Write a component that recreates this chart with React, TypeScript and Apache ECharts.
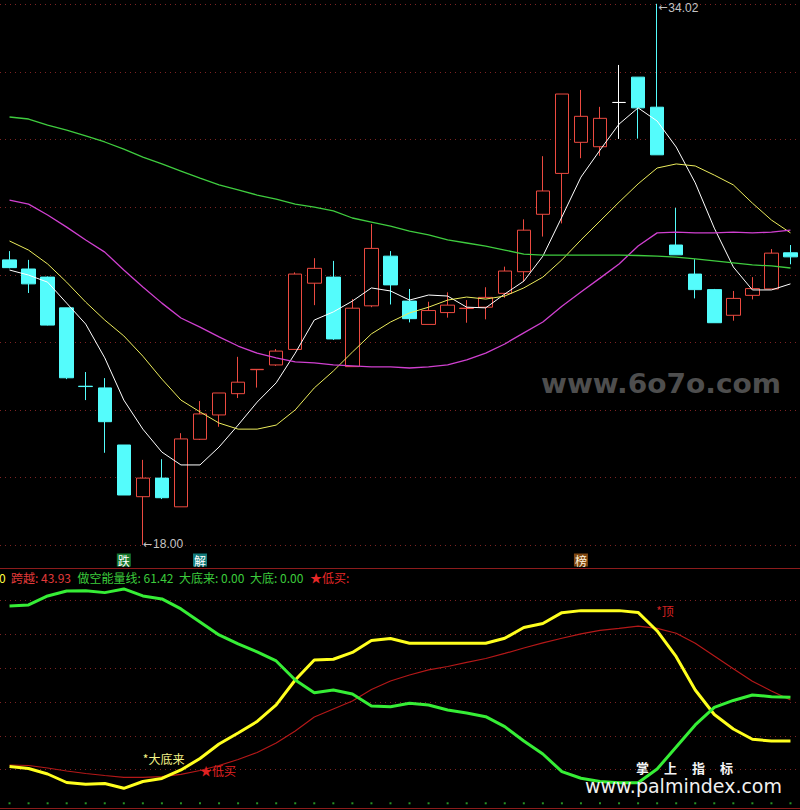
import React, { useEffect, useRef } from "react";
import * as echarts from "echarts";

// bar sequence (one entry per trading day on screen)
const bars = [
  "1", "2", "3", "4", "5", "6", "7", "8", "9", "10", "11", "12", "13", "14",
  "15", "16", "17", "18", "19", "20", "21", "22", "23", "24", "25", "26", "27", "28",
  "29", "30", "31", "32", "33", "34", "35", "36", "37", "38", "39", "40", "41", "42",
];

// OHLC prices
const open = [
  26.44, 26.17, 25.93, 25.02, 22.7, 22.65, 20.96, 19.43, 19.98, 19.13, 21.13, 21.85, 22.48, 23.19,
  23.33, 23.79, 25.75, 25.93, 23.28, 25.08, 26.55, 25.22, 24.53, 24.88, 25.0, 25.04, 25.45, 26.09,
  27.79, 29.0, 29.92, 29.79, 31.1, 31.85, 30.96, 26.88, 26.02, 25.56, 24.8, 25.39, 25.58, 26.65,
];
const close = [
  26.21, 25.73, 24.51, 22.95, 22.69, 21.65, 19.48, 19.98, 19.4, 21.14, 21.88, 22.5, 22.82, 23.2,
  23.74, 26.02, 26.19, 24.1, 25.01, 26.78, 25.7, 24.7, 24.94, 25.1, 25.01, 25.33, 26.11, 27.32,
  28.48, 31.35, 30.69, 30.63, 31.1, 30.94, 29.55, 26.59, 25.56, 24.58, 25.3, 25.59, 26.64, 26.53,
];
const low = [
  26.19, 25.46, 24.5, 22.91, 22.29, 20.73, 19.48, 18.0, 19.36, 19.13, 21.11, 21.5, 22.35, 22.66,
  23.3, 23.79, 25.1, 24.07, 23.28, 25.04, 25.12, 24.59, 24.53, 24.73, 24.58, 24.68, 25.32, 25.79,
  27.13, 27.52, 29.45, 29.52, 30.02, 30.03, 29.55, 26.59, 25.3, 24.58, 24.64, 25.27, 25.58, 26.31,
];
const high = [
  26.7, 26.44, 25.95, 25.02, 23.12, 22.94, 20.96, 20.52, 20.54, 21.31, 22.26, 22.5, 23.57, 23.2,
  23.8, 26.07, 26.49, 26.41, 25.28, 27.5, 26.7, 25.58, 25.2, 25.48, 25.25, 25.63, 26.24, 27.64,
  29.51, 31.35, 31.47, 30.97, 32.21, 31.85, 34.02, 27.98, 26.46, 25.58, 25.52, 25.93, 26.76, 26.88,
];

// moving averages
const ma5 = [
  26.14, 25.99, 25.78, 25.16, 24.54, 23.54, 22.29, 21.43, 20.75, 20.37, 20.37, 20.9, 21.55, 22.23,
  22.8, 23.68, 24.66, 24.9, 25.22, 25.61, 25.52, 25.25, 25.4, 25.37, 25.04, 25.02, 25.43, 25.81,
  26.55, 27.71, 28.89, 29.69, 30.46, 30.94, 30.55, 29.78, 28.72, 27.38, 26.23, 25.55, 25.55, 25.73,
];
const ma10 = [
  27.0, 26.73, 26.32, 25.78, 25.19, 24.66, 24.19, 23.59, 22.91, 22.29, 21.94, 21.61, 21.43, 21.43,
  21.55, 22.0, 22.65, 23.15, 23.71, 24.25, 24.6, 24.87, 25.04, 25.25, 25.34, 25.28, 25.37, 25.61,
  25.93, 26.44, 27.03, 27.59, 28.15, 28.69, 29.16, 29.28, 29.22, 28.95, 28.66, 28.12, 27.62, 27.24,
];
const ma30 = [
  28.21, 28.09, 27.77, 27.41, 27.03, 26.67, 26.14, 25.64, 25.16, 24.72, 24.45, 24.16, 23.89, 23.68,
  23.54, 23.42, 23.39, 23.33, 23.3, 23.27, 23.27, 23.24, 23.27, 23.33, 23.48, 23.68, 23.95, 24.28,
  24.6, 25.07, 25.49, 25.9, 26.32, 26.85, 27.24, 27.26, 27.24, 27.24, 27.26, 27.24, 27.26, 27.32,
];
const ma60 = [
  30.67, 30.61, 30.43, 30.28, 30.11, 29.93, 29.72, 29.48, 29.28, 29.07, 28.86, 28.66, 28.51, 28.36,
  28.24, 28.09, 28.0, 27.89, 27.68, 27.56, 27.44, 27.29, 27.18, 27.03, 26.94, 26.85, 26.73, 26.61,
  26.58, 26.58, 26.58, 26.58, 26.58, 26.57, 26.55, 26.52, 26.47, 26.41, 26.35, 26.29, 26.26, 26.2,
];

// price axis
const priceMin = 18;
const priceTop = 34;
const priceStep = 2;

// signal marks under the price panel
const signalBars = [6, 10, 30];
const signalTexts = ["跌", "解", "榜"];

// indicator panel
const trendLine = [
  10.9, 10.31, 8.68, 6.16, 5.63, 5.87, 4.44, 6.46, 7.35, 9.87, 13.27, 17.57, 20.83, 24.24,
  29.13, 36.53, 42.46, 42.67, 44.68, 48.24, 48.83, 47.41, 47.41, 47.41, 47.41, 47.41, 48.89, 52.09,
  53.27, 56.47, 57.07, 57.07, 57.07, 56.53, 51.05, 43.44, 33.57, 26.31, 22.01, 18.96, 18.46, 18.46,
];
const kuayue = [
  11.35, 11.2, 10.46, 9.57, 8.83, 8.24, 7.7, 7.7, 7.88, 8.59, 9.72, 11.2, 12.98, 15.05,
  17.87, 21.42, 25.57, 27.94, 30.31, 33.72, 36.24, 38.01, 39.5, 40.53, 41.72, 42.9, 44.39, 46.01,
  47.5, 48.89, 50.16, 51.2, 51.79, 52.47, 51.79, 50.37, 47.41, 43.64, 39.88, 36.15, 33.27, 30.61,
];
const shortEnergy = [
  58.46, 58.76, 61.42, 62.9, 62.99, 62.4, 63.5, 61.42, 60.53, 57.57, 53.72, 49.87, 47.2, 44.83,
  42.16, 36.53, 32.77, 33.57, 32.39, 28.83, 28.62, 29.63, 29.13, 27.64, 26.76, 25.66, 22.7, 18.46,
  14.61, 9.36, 7.41, 6.46, 6.1, 6.1, 10.16, 16.68, 23.2, 28.39, 30.46, 32.09, 31.59, 31.41,
];
const bigBottom = [
  0, 0, 0, 0, 0, 0, 0, 0, 0, 0, 0, 0, 0, 0,
  0, 0, 0, 0, 0, 0, 0, 0, 0, 0, 0, 0, 0, 0,
  0, 0, 0, 0, 0, 0, 0, 0, 0, 0, 0, 0, 0, 0,
];
const bottomSignalBar = 7;
const lowBuyBar = 10;
const topSignalBar = 34;

// header readout
const headerLead = "0";
const headerItems = [
  { name: "跨越", value: 43.93 },
  { name: "做空能量线", value: 61.42 },
  { name: "大底来", value: 0.0 },
  { name: "大底", value: 0.0 },
];

const FONT = '"Noto Sans CJK SC", "Noto Sans", sans-serif';
const UP = "#ec4a40";
const DOWN = "#54fcfc";
const GRID_DOT = "#7e2323";

export default function App() {
  const ref = useRef<HTMLDivElement>(null);

  useEffect(() => {
    if (!ref.current) return;
    const chart = echarts.init(ref.current, null, { renderer: "svg" });

    const candles = bars.map((_, i) => {
      const v = [open[i], close[i], low[i], high[i]];
      if (open[i] === close[i]) {
        return {
          value: v,
          itemStyle: { color: "#ffffff", color0: "#ffffff", borderColor: "#ffffff", borderColor0: "#ffffff" },
        };
      }
      return { value: v };
    });

    let lowIdx = 0;
    let highIdx = 0;
    low.forEach((v, i) => { if (v < low[lowIdx]) lowIdx = i; });
    high.forEach((v, i) => { if (v > high[highIdx]) highIdx = i; });

    // the price axis reaches up to the session high so the high marker stays inside it
    const priceMax = Math.max(priceTop, high[highIdx]);
    const pxPerUnit = 540.5 / (priceTop - priceMin);
    const extra = (priceMax - priceTop) * pxPerUnit;

    const xLeft = -2.67;
    const xWidth = 812;

    const headerColors = ["#e23a3a", "#3ccc3c", "#3ccc3c", "#3ccc3c"];
    const headerX = [11, 77.5, 179, 250];

    const extremeRich = {
      a: { fontFamily: '"DejaVu Sans", sans-serif', fontSize: 11, color: "#c4c4c4", padding: [0, 1, 0, 0] },
      n: { fontFamily: '"Liberation Sans", sans-serif', fontSize: 12, color: "#c4c4c4" },
    };

    const graphic: any[] = [
      { type: "line", z: 50, shape: { x1: 0, y1: 568.5, x2: 800, y2: 568.5 }, style: { stroke: "#8c1c1c", lineWidth: 1.2 } },
      { type: "line", z: 50, shape: { x1: 0, y1: 808.5, x2: 800, y2: 808.5 }, style: { stroke: "#8c1c1c", lineWidth: 1.2 } },
      { type: "text", z: 50, x: -1, y: 577, style: { text: headerLead, fill: "#ffff40", font: `12px ${FONT}`, verticalAlign: "middle" } },
      ...headerItems.map((it, i) => ({
        type: "text", z: 50, x: headerX[i], y: 577,
        style: { text: `${it.name}: ${it.value.toFixed(2)}`, fill: headerColors[i], font: `12px ${FONT}`, verticalAlign: "middle" },
      })),
      { type: "text", z: 50, x: 310, y: 577, style: { text: "★低买:", fill: "#e82828", font: `12px ${FONT}`, verticalAlign: "middle" } },
      {
        type: "text", z: 1, x: 541, y: 384, scaleX: 1.08,
        style: { text: "www.6o7o.com", fill: "#4e4e4e", font: `bold 26px "DejaVu Sans", sans-serif`, verticalAlign: "middle" },
      },
      ...["掌", "上", "指", "标"].map((ch, i) => ({
        type: "text", z: 100, x: 636 + i * 28, y: 767,
        style: { text: ch, fill: "#f4f4f4", font: `bold 13px ${FONT}`, lineHeight: 13, verticalAlign: "middle" },
      })),
      {
        type: "text", z: 100, x: 585, y: 786,
        style: { text: "www.palmindex.com", fill: "#f0f0f0", font: `19px "DejaVu Sans", sans-serif`, lineHeight: 18, verticalAlign: "middle" },
      },
    ];

    const option: any = {
      animation: false,
      backgroundColor: "#000000",
      grid: [
        { left: xLeft, width: xWidth, top: 4.5 - extra, height: 540.5 + extra },
        { left: xLeft, width: xWidth, top: 569, height: 234.3 },
      ],
      xAxis: [
        {
          type: "category", gridIndex: 0, data: bars, boundaryGap: true,
          axisLine: { show: false }, axisTick: { show: false }, splitLine: { show: false },
          axisLabel: {
            show: true, interval: 0, margin: 9,
            formatter: (_v: string, idx: number) => {
              const k = signalBars.indexOf(idx);
              return k < 0 ? "" : `{s${k}|${signalTexts[k]}}`;
            },
            rich: {
              s0: { backgroundColor: "#17782e", color: "#ffffff", fontSize: 12, fontFamily: FONT, padding: [1, 1, 0, 1], lineHeight: 12 },
              s1: { backgroundColor: "#137a7a", color: "#ffffff", fontSize: 12, fontFamily: FONT, padding: [1, 1, 0, 1], lineHeight: 12 },
              s2: { backgroundColor: "#7f4712", color: "#fff4dc", fontSize: 12, fontFamily: FONT, padding: [1, 1, 0, 1], lineHeight: 12 },
            },
          },
        },
        { type: "category", gridIndex: 1, data: bars, boundaryGap: true, show: false },
      ],
      yAxis: [
        {
          type: "value", gridIndex: 0, min: priceMin, max: priceMax, interval: priceStep,
          axisLabel: { show: false }, axisLine: { show: false }, axisTick: { show: false },
          splitLine: {
            show: true, showMinLine: true, showMaxLine: priceMax === priceTop,
            lineStyle: { color: GRID_DOT, width: 1, type: [1, 4] },
          },
        },
        {
          type: "value", gridIndex: 1, min: 0, max: 69.4, interval: 10,
          axisLabel: { show: false }, axisLine: { show: false }, axisTick: { show: false },
          splitLine: { show: true, showMinLine: false, showMaxLine: false, lineStyle: { color: GRID_DOT, width: 1, type: [1, 4] } },
        },
      ],
      graphic,
      series: [
        {
          type: "candlestick", xAxisIndex: 0, yAxisIndex: 0, data: candles, barWidth: 14, clip: false,
          itemStyle: { color: "#000000", color0: DOWN, borderColor: UP, borderColor0: DOWN, borderWidth: 1 },
          markPoint: {
            symbol: "circle", symbolSize: 0, itemStyle: { color: "rgba(0,0,0,0)" },
            label: { show: true, rich: extremeRich },
            data: [
              { coord: [lowIdx, low[lowIdx]], value: low[lowIdx],
                label: { formatter: `{a|←}{n|${low[lowIdx].toFixed(2)}}`, position: [0, -7] } },
              { coord: [highIdx, high[highIdx]], value: high[highIdx],
                label: { formatter: `{a|←}{n|${high[highIdx].toFixed(2)}}`, position: [1, -2] } },
            ],
          },
        },
        { type: "line", xAxisIndex: 0, yAxisIndex: 0, data: ma5, symbol: "none", lineStyle: { color: "#ffffff", width: 1 } },
        { type: "line", xAxisIndex: 0, yAxisIndex: 0, data: ma10, symbol: "none", lineStyle: { color: "#ecec5c", width: 1 } },
        { type: "line", xAxisIndex: 0, yAxisIndex: 0, data: ma30, symbol: "none", lineStyle: { color: "#d040d0", width: 1.3 } },
        { type: "line", xAxisIndex: 0, yAxisIndex: 0, data: ma60, symbol: "none", lineStyle: { color: "#3fcc3f", width: 1.3 } },
        {
          type: "line", xAxisIndex: 1, yAxisIndex: 1, data: kuayue, symbol: "none", lineStyle: { color: "#b41818", width: 1.2 },
          markPoint: {
            symbol: "circle", symbolSize: 0, itemStyle: { color: "rgba(0,0,0,0)" },
            data: [
              { coord: [lowBuyBar, kuayue[lowBuyBar]], value: kuayue[lowBuyBar],
                label: { show: true, formatter: "★低买", position: [0, -6], color: "#e02222", fontSize: 12, fontFamily: FONT } },
            ],
          },
        },
        {
          type: "line", xAxisIndex: 1, yAxisIndex: 1, data: trendLine, symbol: "none", lineStyle: { color: "#ffff1e", width: 3 },
          markPoint: {
            symbol: "circle", symbolSize: 0, itemStyle: { color: "rgba(0,0,0,0)" },
            data: [
              { coord: [bottomSignalBar, trendLine[bottomSignalBar]], value: trendLine[bottomSignalBar],
                label: { show: true, formatter: "*大底来", position: [0, -29], color: "#f4f488", fontSize: 12, fontFamily: FONT } },
              { coord: [topSignalBar, trendLine[topSignalBar]], value: trendLine[topSignalBar],
                label: { show: true, formatter: "*顶", position: [-1, -26], color: "#d42222", fontSize: 12, fontFamily: FONT } },
            ],
          },
        },
        { type: "line", xAxisIndex: 1, yAxisIndex: 1, data: shortEnergy, symbol: "none", lineStyle: { color: "#36ee36", width: 3 } },
        {
          type: "scatter", xAxisIndex: 1, yAxisIndex: 1, data: bigBottom, symbol: "rect", symbolSize: 2,
          itemStyle: { color: "#2fb82f" }, clip: false,
        },
      ],
    };

    chart.setOption(option);
    return () => chart.dispose();
  }, []);

  return (
    <div
      ref={ref}
      style={{ position: "fixed", left: 0, top: 0, width: 800, height: 810, background: "#000000" }}
    />
  );
}
